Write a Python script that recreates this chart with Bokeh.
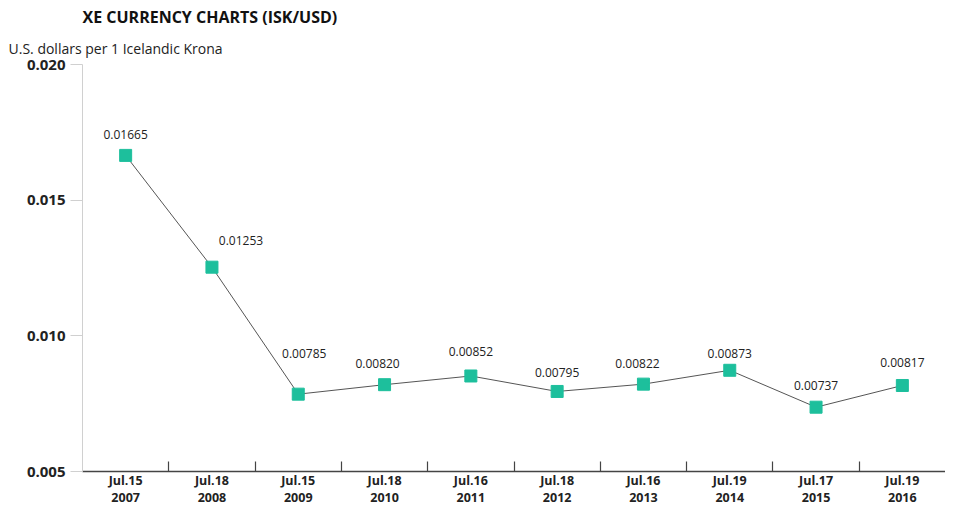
from bokeh.plotting import figure
from bokeh.models import FixedTicker, LinearAxis, Range1d, ColumnDataSource, Title, NumeralTickFormatter
from bokeh.core.properties import value
from bokeh.embed import file_html
from bokeh.resources import INLINE

# data
dates = ["Jul.15\n2007", "Jul.18\n2008", "Jul.15\n2009", "Jul.18\n2010", "Jul.16\n2011",
         "Jul.18\n2012", "Jul.16\n2013", "Jul.19\n2014", "Jul.17\n2015", "Jul.19\n2016"]
rates = [0.01665, 0.01253, 0.00785, 0.00820, 0.00852, 0.00795, 0.00822, 0.00873, 0.00737, 0.00817]
rate_labels = ["0.01665", "0.01253", "0.00785", "0.00820", "0.00852",
               "0.00795", "0.00822", "0.00873", "0.00737", "0.00817"]
y_ticks = [0.005, 0.010, 0.015, 0.020]

# label placement (styling, pixels above / right of each marker)
label_dx = [0, 29, 6, -7, 0, 0, -6, 0, 0, 0]
label_dy = [21, 27, 41, 21, 24, 19, 21, 17, 22, 23]

n = len(rates)
xs = list(range(n))

FONT = "Open Sans"
TEAL = "#1dbf9c"

p = figure(width=945, height=508, output_backend="svg", toolbar_location=None,
           x_range=Range1d(-0.5, n - 0.5), y_range=Range1d(0.005, 0.020),
           x_axis_location=None, y_axis_location=None,
           min_border_left=82, min_border_right=0, min_border_top=0, min_border_bottom=0)
p.outline_line_color = None
p.xgrid.grid_line_color = None
p.ygrid.grid_line_color = None
p.background_fill_color = "white"

# titles
sub = Title(text="U.S. dollars per 1 Icelandic Krona", align="left", offset=-74,
            text_font=FONT, text_font_size="14px", text_font_style="normal",
            text_color="#222222", standoff=13)
p.add_layout(sub, "above")
main = Title(text="XE CURRENCY CHARTS (ISK/USD)", align="left", offset=0,
             text_font=FONT, text_font_size="16px", text_font_style="bold",
             text_color="#111111", standoff=6)
p.add_layout(main, "above")

# y axis
yax = LinearAxis(ticker=FixedTicker(ticks=y_ticks),
                 formatter=NumeralTickFormatter(format="0.000"))
yax.axis_line_color = "#d0d0d0"
yax.major_tick_line_color = "#d0d0d0"
yax.major_tick_out = 12
yax.major_tick_in = 0
yax.minor_tick_line_color = None
yax.major_label_text_font = FONT
yax.major_label_text_font_size = "15px"
yax.major_label_text_font_style = "bold"
yax.major_label_text_color = "#222222"
yax.major_label_standoff = 5
p.add_layout(yax, "left")

# x axis: labels at category centres, inner ticks at category boundaries
xl = LinearAxis(ticker=FixedTicker(ticks=xs, minor_ticks=[i + 0.5 for i in range(n - 1)]),
                major_label_overrides={i: d for i, d in enumerate(dates)})
xl.axis_line_color = "#444444"
xl.axis_line_width = 1.5
xl.major_tick_line_color = None
xl.major_tick_in = 0
xl.major_tick_out = 0
xl.minor_tick_line_color = "#444444"
xl.minor_tick_line_width = 1.2
xl.minor_tick_in = 10
xl.minor_tick_out = 0
xl.major_label_text_font = FONT
xl.major_label_text_font_size = "12.5px"
xl.major_label_text_font_style = "bold"
xl.major_label_text_color = "#222222"
xl.major_label_text_line_height = 1.0
xl.major_label_standoff = 0
p.add_layout(xl, "below")

src = ColumnDataSource(dict(x=xs, y=rates, lab=rate_labels, dx=label_dx,
                            dy=[-d for d in label_dy]))

p.line("x", "y", source=src, line_color="#555555", line_width=1)
p.scatter("x", "y", source=src, marker="square", size=12, fill_color=TEAL,
          line_color=TEAL)
p.text("x", "y", text="lab", source=src, x_offset="dx", y_offset="dy",
       text_font=value(FONT), text_font_size="12px", text_color="#222222",
       text_align="center", text_baseline="middle")

open("out.html", "w").write(file_html(p, INLINE))
